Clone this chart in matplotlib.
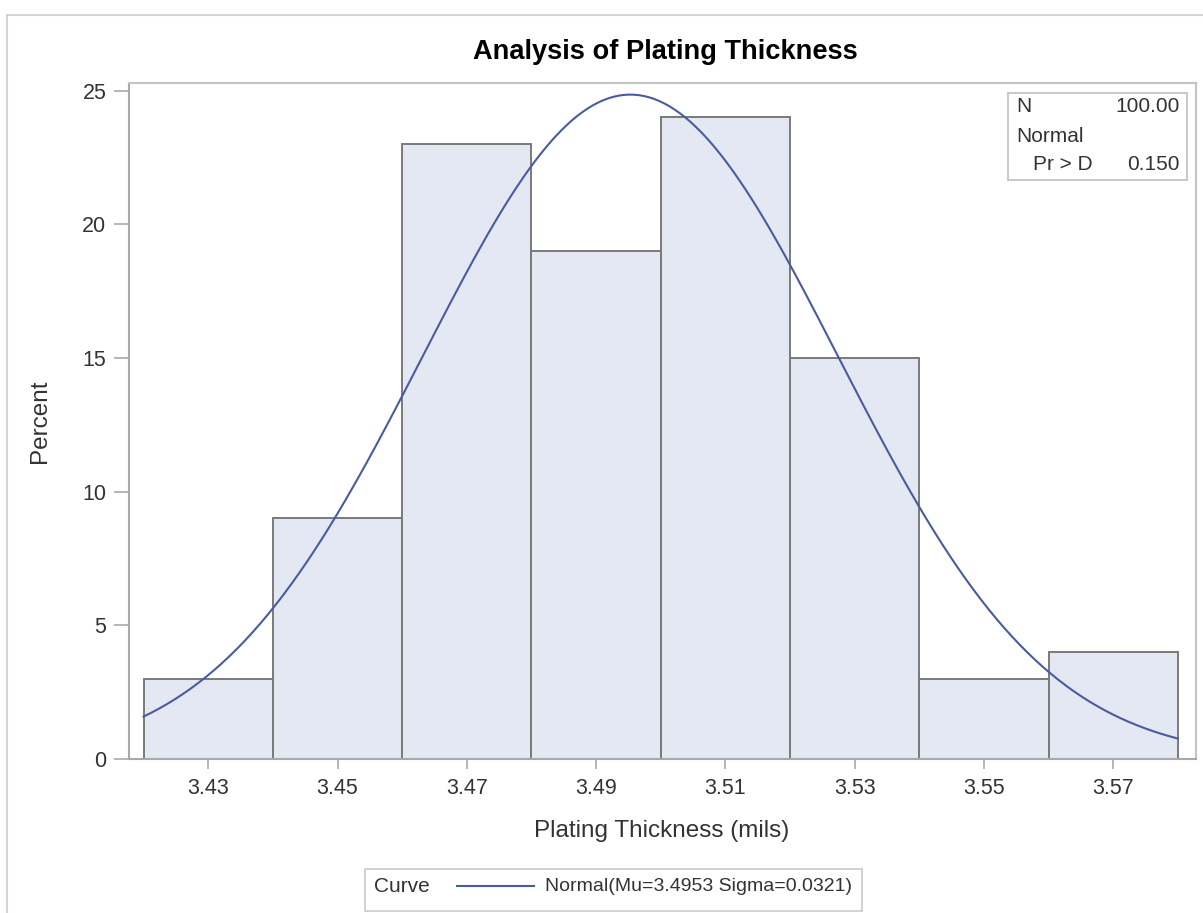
import numpy as np
import matplotlib
matplotlib.use("Agg")
import matplotlib.pyplot as plt
from matplotlib.patches import Rectangle
from matplotlib.lines import Line2D

plt.rcParams["font.family"] = ["Liberation Sans", "DejaVu Sans"]

# Histogram data (bin midpoints, percent per bin)
midpoints = [3.43, 3.45, 3.47, 3.49, 3.51, 3.53, 3.55, 3.57]
percents = [3, 9, 23, 19, 24, 15, 3, 4]
bin_width = 0.02

# Fitted normal parameters
mu = 3.4953
sigma = 0.0321
n_obs = 100.00
pr_d = 0.150

W, H = 1203, 913
fig = plt.figure(figsize=(W / 100, H / 100), dpi=100)
ax = fig.add_axes([128.7 / W, 1 - 759 / H, (1196 - 128.7) / W, (759 - 83) / H])

def fx(x):
    return x / W

def fy(y):
    return 1 - y / H

# outer light border
fig.patches.append(Rectangle((fx(7), fy(940)), fx(1230 - 7), (940 - 15) / H,
                             transform=fig.transFigure, fill=False,
                             edgecolor="#d4d4d4", linewidth=1.5))

bar_fill = "#e3e8f2"
bar_edge = "#7a7a7a"
curve_col = "#4b5b9f"

ax.bar(midpoints, percents, width=bin_width, color=bar_fill,
       edgecolor=bar_edge, linewidth=1.4, zorder=2)

xs = np.linspace(midpoints[0] - bin_width / 2, midpoints[-1] + bin_width / 2, 400)
ys = 100 * bin_width * np.exp(-0.5 * ((xs - mu) / sigma) ** 2) / (sigma * np.sqrt(2 * np.pi))
ax.plot(xs, ys, color=curve_col, linewidth=1.5, zorder=3)

ax.set_xlim(3.4177, 3.5828)
ax.set_ylim(0, 25.29)
ax.set_xticks(midpoints)
ax.set_xticklabels([f"{m:.2f}" for m in midpoints])
ax.set_yticks([0, 5, 10, 15, 20, 25])

for side in ["left", "bottom"]:
    ax.spines[side].set_color("#a8a8a8")
    ax.spines[side].set_linewidth(1.5)
for side in ["top", "right"]:
    ax.spines[side].set_color("#c4c4c4")
    ax.spines[side].set_linewidth(1.5)

ax.tick_params(axis="x", length=7, width=1.3, color="#b0b0b0",
               labelsize=15.5, labelcolor="#333333", pad=7)
ax.tick_params(axis="y", length=11, width=1.3, color="#b0b0b0",
               labelsize=15.5, labelcolor="#333333", pad=5)

# titles and axis labels
fig.text(fx(665), fy(52), "Analysis of Plating Thickness", ha="center",
         va="center", fontsize=19.6, fontweight="bold", color="black")
fig.text(fx(661.5), fy(831), "Plating Thickness (mils)", ha="center",
         va="center", fontsize=17.5, color="#333333")
fig.text(fx(40), fy(421), "Percent", ha="center", va="center",
         rotation=90, fontsize=17.5, color="#333333")

# stats inset
fig.patches.append(Rectangle((fx(1008), fy(180)), (1187 - 1008) / W, (180 - 93) / H,
                             transform=fig.transFigure, facecolor="white",
                             edgecolor="#c4c4c4", linewidth=1.3, zorder=5))
stat_kw = dict(fontsize=15, color="#333333", va="center", zorder=6)
fig.text(fx(1016), fy(106), "N", ha="left", **stat_kw)
fig.text(fx(1180), fy(106), f"{n_obs:.2f}", ha="right", **stat_kw)
fig.text(fx(1016), fy(136), "Normal", ha="left", **stat_kw)
fig.text(fx(1033), fy(164), "Pr > D", ha="left", **stat_kw)
fig.text(fx(1180), fy(164), f"{pr_d:.3f}", ha="right", **stat_kw)

# bottom legend
fig.patches.append(Rectangle((fx(365), fy(911)), (862 - 365) / W, (911 - 869) / H,
                             transform=fig.transFigure, facecolor="white",
                             edgecolor="#cfcfcf", linewidth=1.3))
fig.text(fx(374), fy(886), "Curve", ha="left", va="center", fontsize=15, color="#333333")
fig.lines.append(Line2D([fx(457), fx(534)], [fy(886), fy(886)],
                        transform=fig.transFigure, color=curve_col, linewidth=1.5))
fig.text(fx(545), fy(886), f"Normal(Mu={mu:.4f} Sigma={sigma:.4f})", ha="left",
         va="center", fontsize=14, color="#333333")

fig.savefig("out.png", dpi=100)
